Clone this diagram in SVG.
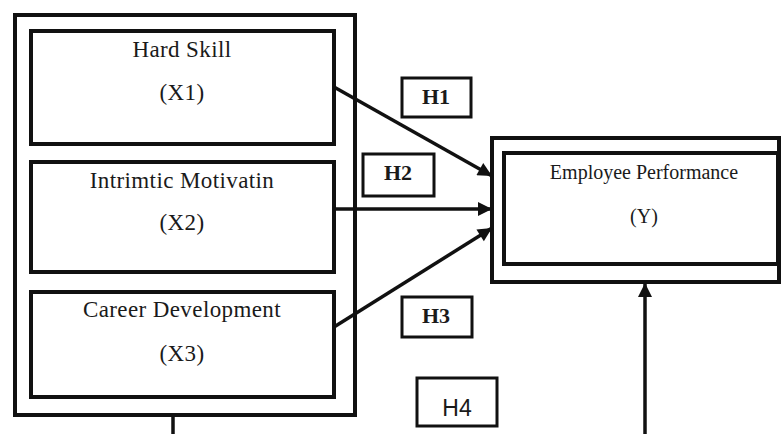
<svg xmlns="http://www.w3.org/2000/svg" width="781" height="434" viewBox="0 0 781 434">
<style>
.box{fill:none;stroke:#111;stroke-width:4}
.hbox{fill:#fff;stroke:#111;stroke-width:3}
.t{font-family:"Liberation Serif","Times New Roman",serif;fill:#1a1a1a;text-anchor:middle}
.l{font-size:23px;letter-spacing:0.4px}
.s{font-family:"Liberation Sans",Arial,sans-serif;fill:#1a1a1a;text-anchor:middle}
.c{stroke:#111;stroke-width:3.5;fill:none}
</style>
<defs>
<marker id="ah" viewBox="0 0 10 10" refX="10" refY="5" markerWidth="4.4" markerHeight="4" orient="auto" markerUnits="strokeWidth">
<path d="M0,0 L10,5 L0,10 z" fill="#111"/>
</marker>
</defs>
<rect width="781" height="434" fill="#fff"/>
<g id="outer-left"><rect class="box" x="15" y="15" width="340" height="400"/></g>
<g id="x1"><rect class="box" x="31" y="31" width="303" height="113"/>
<text class="t l" x="182" y="57">Hard Skill</text>
<text class="t l" x="182" y="100">(X1)</text></g>
<g id="x2"><rect class="box" x="31" y="162" width="303" height="110"/>
<text class="t l" x="182" y="188">Intrimtic Motivatin</text>
<text class="t l" x="182" y="230">(X2)</text></g>
<g id="x3"><rect class="box" x="31" y="292" width="303" height="105"/>
<text class="t l" x="182" y="317">Career Development</text>
<text class="t l" x="182" y="361">(X3)</text></g>
<g id="outer-y"><rect class="box" x="492" y="138" width="287" height="144"/></g>
<g id="y"><rect class="box" x="504" y="153" width="274" height="111"/>
<text class="t" x="644" y="179" font-size="20">Employee Performance</text>
<text class="t" x="644" y="223" font-size="20">(Y)</text></g>
<g id="connectors">
<line class="c" x1="334" y1="87" x2="492" y2="176" marker-end="url(#ah)"/>
<line class="c" x1="334" y1="209" x2="492" y2="209" marker-end="url(#ah)"/>
<line class="c" x1="334" y1="327" x2="492" y2="228" marker-end="url(#ah)"/>
<line class="c" x1="173" y1="415" x2="173" y2="434"/>
<line class="c" x1="645" y1="434" x2="645" y2="283" marker-end="url(#ah)"/>
</g>
<g id="h1"><rect class="hbox" x="402" y="78" width="69" height="39"/>
<text class="t" x="436" y="104" font-size="22" font-weight="bold">H1</text></g>
<g id="h2"><rect class="hbox" x="363" y="154" width="71" height="42"/>
<text class="t" x="398" y="180" font-size="22" font-weight="bold">H2</text></g>
<g id="h3"><rect class="hbox" x="402" y="297" width="70" height="40"/>
<text class="t" x="436" y="323" font-size="22" font-weight="bold">H3</text></g>
<g id="h4"><rect class="hbox" x="417" y="378" width="80" height="48"/>
<text class="s" x="457" y="416" font-size="23">H4</text></g>
</svg>
